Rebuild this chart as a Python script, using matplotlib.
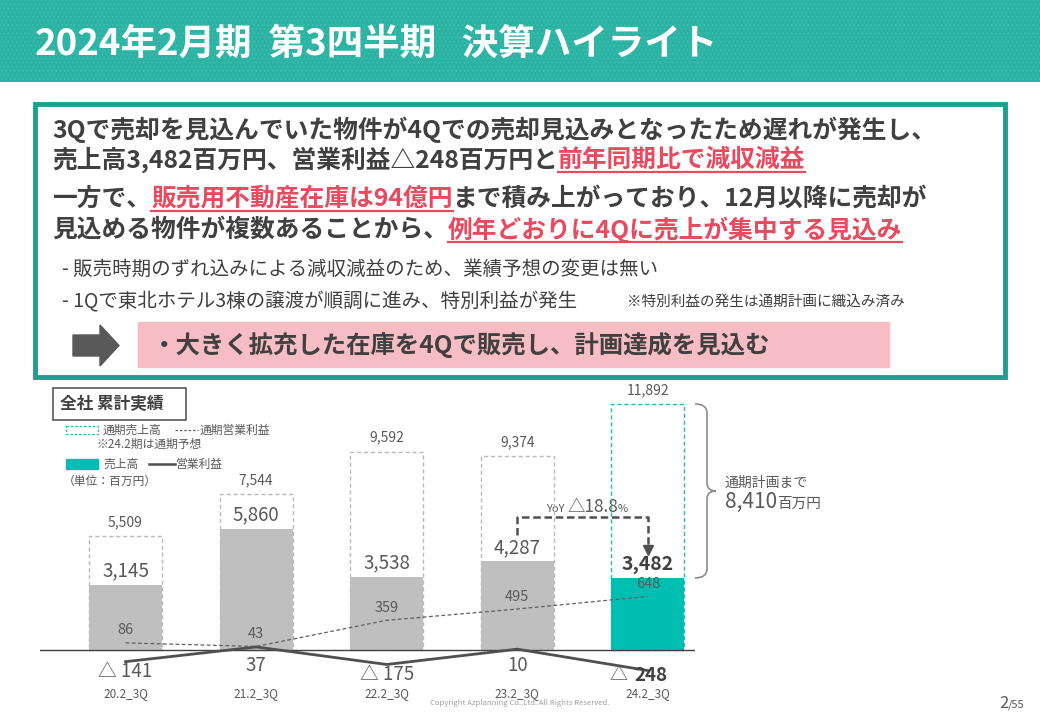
import numpy as np
import matplotlib
matplotlib.use('Agg')
import matplotlib.pyplot as plt
from matplotlib.patches import Rectangle, Polygon, PathPatch
from matplotlib.path import Path

plt.rcParams['font.family'] = ['Noto Sans CJK JP', 'DejaVu Sans']
plt.rcParams['hatch.linewidth'] = 0.5

# data (百万円)
periods = ['20.2_3Q', '21.2_3Q', '22.2_3Q', '23.2_3Q', '24.2_3Q']
sales_3q = [3145, 5860, 3538, 4287, 3482]
sales_fy = [5509, 7544, 9592, 9374, 11892]
op_3q = [-141, 37, -175, 10, -248]
op_fy = [86, 43, 359, 495, 648]

teal_head = '#2BB3A3'
teal_border = '#1F9E8F'
teal_bar = '#00BFB2'
gray_bar = '#BFBFBF'
dark = '#404040'
mid = '#595959'
red = '#E84A5F'
pink = '#F7BDC4'

fig = plt.figure(figsize=(10.4, 7.2), dpi=100)
bg = fig.add_axes([0, 0, 1, 1])
bg.set_xlim(0, 1040)
bg.set_ylim(720, 0)
bg.axis('off')
rend = fig.canvas.get_renderer()


def chain(x, y, parts, va='center', ul_dy=12):
    # parts: (text, size, color, weight, underline)
    for s, size, color, weight, ul in parts:
        t = bg.text(x, y, s, fontsize=size, color=color, weight=weight,
                    va=va, ha='left')
        w = t.get_window_extent(rend).width
        if ul:
            bg.plot([x, x + w], [y + ul_dy] * 2, color=color, lw=1.6)
        x += w
    return x


# header
bg.add_patch(Rectangle((0, 0), 1040, 82, facecolor=teal_head,
                       edgecolor='#45BFB1', hatch='....', lw=0, zorder=0))
chain(35, 44, [('2024年2月期', 26.3, 'white', 'bold', False),
               ('  第3四半期', 26.3, 'white', 'bold', False),
               ('   決算ハイライト', 26.3, 'white', 'bold', False)])

# summary box
bg.add_patch(Rectangle((35, 104), 970, 273, fill=False, ec=teal_border, lw=3.5))
fs = 17.8
chain(52, 130, [('3Qで売却を見込んでいた物件が4Qでの売却見込みとなったため遅れが発生し、', fs, dark, 'bold', False)])
chain(52, 160, [('売上高3,482百万円、営業利益△248百万円と', fs, dark, 'bold', False),
                ('前年同期比で減収減益', fs, red, 'bold', True)])
chain(52, 199, [('一方で、', fs, dark, 'bold', False),
                ('販売用不動産在庫は94億円', fs, red, 'bold', True),
                ('まで積み上がっており、12月以降に売却が', fs, dark, 'bold', False)])
chain(52, 230, [('見込める物件が複数あることから、', fs, dark, 'bold', False),
                ('例年どおりに4Qに売上が集中する見込み', fs, red, 'bold', True)])

bg.text(62, 269, '- 販売時期のずれ込みによる減収減益のため、業績予想の変更は無い',
        fontsize=14, color=dark, va='center')
bg.text(62, 301, '- 1Qで東北ホテル3棟の譲渡が順調に進み、特別利益が発生',
        fontsize=14, color=dark, va='center')
bg.text(627, 302, '※特別利益の発生は通期計画に織込み済み', fontsize=10.5,
        color=dark, va='center')

bg.add_patch(Polygon([(73, 335), (100, 335), (100, 325), (119, 345.5),
                      (100, 366), (100, 356), (73, 356)], color=mid))
bg.add_patch(Rectangle((138, 322), 751, 45, color=pink))
bg.text(152, 345, '・大きく拡充した在庫を4Qで販売し、計画達成を見込む',
        fontsize=17.6, weight='bold', color=dark, va='center')

# chart
px_per_unit = 0.02069
ax = fig.add_axes([40 / 1040, 20 / 720, 655 / 1040, 320 / 720])
ylo, yhi = -50 / px_per_unit, 270 / px_per_unit
ax.set_ylim(ylo, yhi)
ax.set_xlim(-0.655, 4.361)
ax.axis('off')
x = np.arange(len(periods))
edge_cols = ['#BBBBBB'] * 4 + ['#2DB5B0']
ax.bar(x, sales_fy, width=0.56, fill=False, edgecolor=edge_cols,
       linestyle=(0, (3, 2)), lw=1, zorder=1)
ax.bar(x, sales_3q, width=0.56, color=[gray_bar] * 4 + [teal_bar], zorder=2)
ax.axhline(0, color=dark, lw=1, zorder=3)

for i in x:
    ax.annotate(f'{sales_fy[i]:,}', (i, sales_fy[i]), xytext=(0, 10),
                textcoords='offset points', ha='center', va='center',
                fontsize=10, color=mid)
    last = i == len(x) - 1
    ax.annotate(f'{sales_3q[i]:,}', (i, sales_3q[i]), xytext=(0, 10),
                textcoords='offset points', ha='center', va='center',
                fontsize=14 if last else 13.5, color=dark if last else mid,
                weight='bold' if last else 'normal', zorder=5)
    ax.annotate(periods[i], (i, 0), xytext=(0, -31), textcoords='offset points',
                ha='center', va='center', fontsize=8.5, color=mid)

ax2 = ax.twinx()
ax2.set_ylim(ylo / 4, yhi / 4)
ax2.axis('off')
ax2.plot(x, op_fy, color='#606060', lw=0.9, ls=(0, (3, 2)))
ax2.plot(x, op_3q, color='#505050', lw=2)
for i in x:
    ax2.annotate(f'{op_fy[i]:,}', (i, op_fy[i]), xytext=(0, 9),
                 textcoords='offset points', ha='center', va='center',
                 fontsize=10.5, color=mid)
    v = op_3q[i]
    if i == len(x) - 1:
        ax2.annotate(f'{abs(v)}', (i, min(v, 0)), xytext=(2, -3.5),
                     textcoords='offset points', ha='center', va='center',
                     fontsize=13.5, weight='bold', color=dark)
        ax2.annotate('△', (i, min(v, 0)), xytext=(-15, -3.5),
                     textcoords='offset points', ha='right', va='center',
                     fontsize=13, color=mid)
    else:
        lab = f'△ {abs(v)}' if v < 0 else f'{v}'
        ax2.annotate(lab, (i, min(v, 0)), xytext=(0, -7 if v < 0 else -11),
                     textcoords='offset points', ha='center', va='center',
                     fontsize=13.5, color=mid)

# YoY link between 23.2_3Q and 24.2_3Q
y_link = 6430
ax.plot([3, 3, 4, 4], [5560, y_link, y_link, 4850], color='#505050',
        lw=1.8, ls=(0, (3, 1.5)), zorder=4)
ax.plot([4], [4850], marker='v', ms=7, color='#505050', zorder=4)
yoy = (sales_3q[4] / sales_3q[3] - 1) * 100


def to_bg(axis, xv, yv):
    fx, fy = axis.transData.transform((xv, yv))
    return fx, 720 - fy


lx, ly = to_bg(ax, 3.5, y_link)
chain(546, ly - 5, [('YoY ', 8, mid, 'normal', False),
                    (f'△{abs(yoy):.1f}', 12.5, mid, 'normal', False),
                    ('%', 8, mid, 'normal', False)], va='baseline')

# brace to full-year plan
_, yt = to_bg(ax, 4, sales_fy[4])
_, yb = to_bg(ax, 4, sales_3q[4])
ym = (yt + yb) / 2
x0, x1, xt = 695, 707, 716
verts = [(x0, yt), (x1, yt), (x1, yt + 9), (x1, ym - 8), (x1, ym), (xt, ym),
         (x1, ym), (x1, ym + 8), (x1, yb - 9), (x1, yb), (x0, yb)]
codes = [Path.MOVETO, Path.CURVE3, Path.CURVE3, Path.LINETO, Path.CURVE3,
         Path.CURVE3, Path.CURVE3, Path.CURVE3, Path.LINETO, Path.CURVE3,
         Path.CURVE3]
bg.add_patch(PathPatch(Path(verts, codes), fill=False, ec='#8C8C8C', lw=1.2))
bg.text(725, ym - 8, '通期計画まで', fontsize=10, color=mid, va='center')
chain(725, ym + 17, [(f'{sales_fy[4] - sales_3q[4]:,}', 15, mid, 'normal', False),
                     ('百万円', 10.5, mid, 'normal', False)], va='baseline')

# legend block
bg.add_patch(Rectangle((53, 388), 133, 32, fill=False, ec=mid, lw=1.2))
bg.text(60, 404, '全社 累計実績', fontsize=12, weight='bold', color=dark,
        va='center')
bg.add_patch(Rectangle((66, 426), 32, 8, fill=False, ec='#2DB5B0', lw=0.9,
                       ls=(0, (2, 1.5))))
bg.text(103, 430, '通期売上高', fontsize=8.5, color=mid, va='center')
bg.plot([175, 198], [430, 430], color='#606060', lw=0.9, ls=(0, (2, 1.5)))
bg.text(200, 430, '通期営業利益', fontsize=8.5, color=mid, va='center')
bg.text(96, 444, '※24.2期は通期予想', fontsize=8.5, color=mid, va='center')
bg.add_patch(Rectangle((66, 459), 32, 10, color=teal_bar))
bg.text(103, 464, '売上高', fontsize=8.5, color=mid, va='center')
bg.plot([149, 175], [464, 464], color='#505050', lw=1.8)
bg.text(176, 464, '営業利益', fontsize=8.5, color=mid, va='center')
bg.text(63, 481, '（単位：百万円）', fontsize=8.5, color=mid, va='center')

# footer
bg.text(520, 703, 'Copyright Azplanning Co.,Ltd. All Rights Reserved.',
        fontsize=5.5, color='#A0A0A0', ha='center', va='center')
chain(999, 708, [('2', 12, mid, 'normal', False),
                 ('/55', 8, mid, 'normal', False)], va='baseline')

fig.savefig('out.png', dpi=100)
